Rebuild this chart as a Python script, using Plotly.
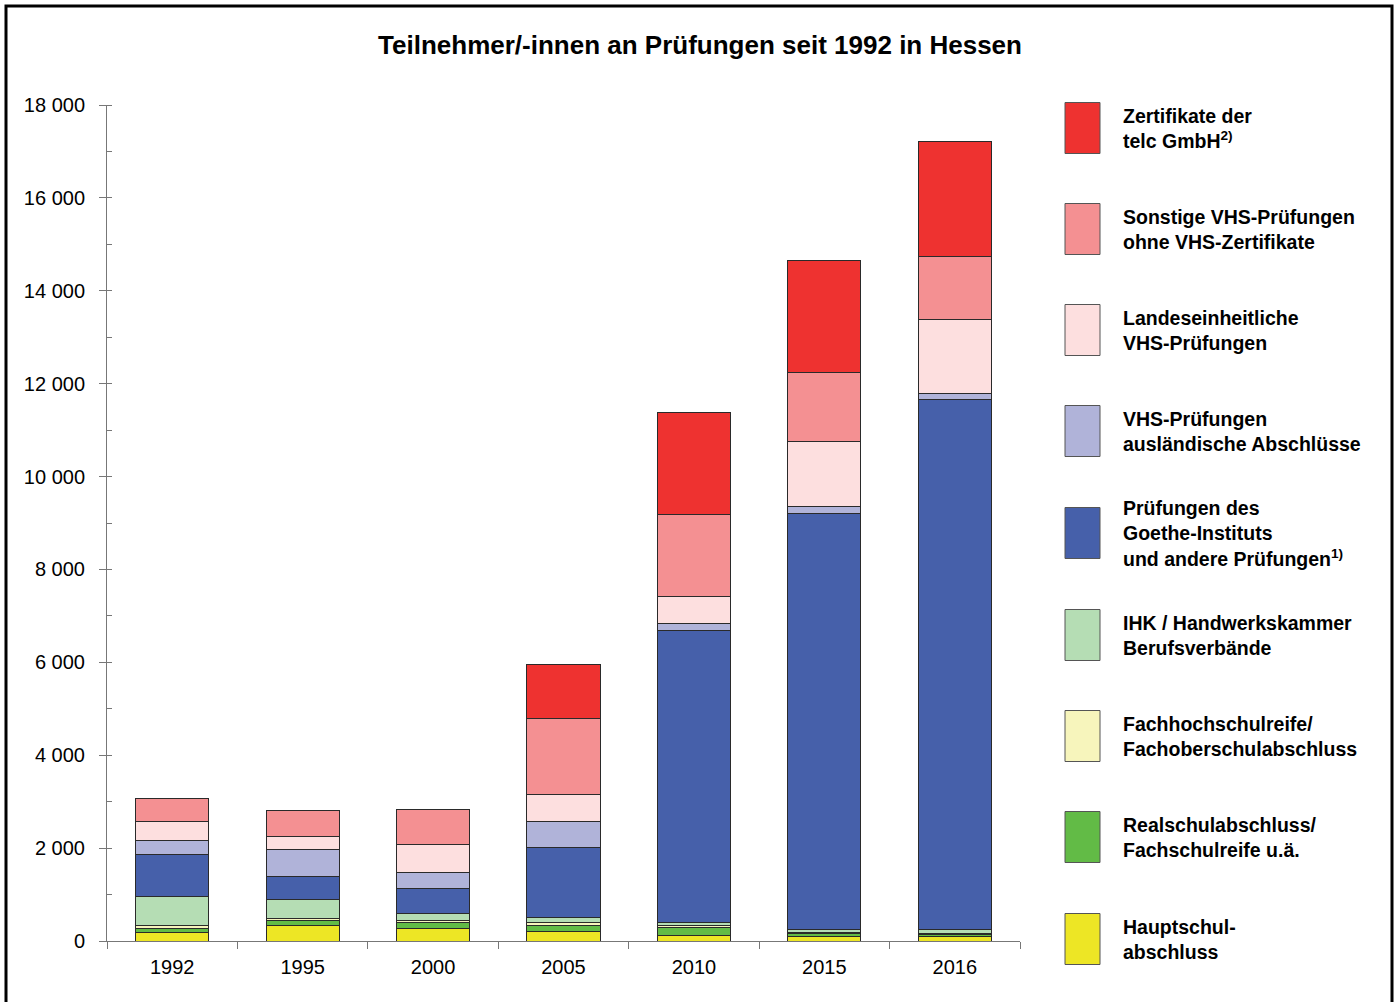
import plotly.graph_objects as go

years = ["1992", "1995", "2000", "2005", "2010", "2015", "2016"]

hauptschul = [190, 337, 280, 215, 129, 100, 100]
realschul = [85, 115, 129, 129, 165, 57, 50]
fachhoch = [60, 43, 36, 57, 50, 22, 22]
ihk = [625, 402, 151, 108, 57, 65, 65]
goethe = [912, 502, 524, 1494, 6274, 8951, 11426]
vhs_ausl = [300, 581, 352, 573, 157, 164, 129]
landes = [400, 265, 603, 582, 581, 1399, 1580]
sonstige = [503, 560, 754, 1636, 1772, 1473, 1363]
telc = [0, 0, 0, 1156, 2190, 2411, 2476]

series_values = [hauptschul, realschul, fachhoch, ihk, goethe, vhs_ausl, landes, sonstige, telc]
series_names = [
    "Hauptschul-<br>abschluss",
    "Realschulabschluss/<br>Fachschulreife u.ä.",
    "Fachhochschulreife/<br>Fachoberschulabschluss",
    "IHK / Handwerkskammer<br>Berufsverbände",
    "Prüfungen des<br>Goethe-Instituts<br>und andere Prüfungen<sup>1)</sup>",
    "VHS-Prüfungen<br>ausländische Abschlüsse",
    "Landeseinheitliche<br>VHS-Prüfungen",
    "Sonstige VHS-Prüfungen<br>ohne VHS-Zertifikate",
    "Zertifikate der<br>telc GmbH<sup>2)</sup>",
]
series_colors = ["#EDE625", "#62BB46", "#F7F5BC", "#B5DDB4", "#4660AA",
                 "#B0B3D9", "#FDDFDF", "#F49092", "#EE3230"]

tick_vals = [0, 2000, 4000, 6000, 8000, 10000, 12000, 14000, 16000, 18000]
title_text = "Teilnehmer/-innen an Prüfungen seit 1992 in Hessen"

FONT = "Liberation Sans, Arial, sans-serif"

fig = go.Figure()
for name, vals, col in zip(series_names, series_values, series_colors):
    fig.add_trace(go.Bar(
        x=years, y=vals, name=name.replace("<br>", " "),
        marker=dict(color=col, line=dict(color="#2a2a2a", width=1)),
        width=0.56, showlegend=False,
    ))

# plot area in pixels
L, R, T, B = 107, 1020, 105, 941
W, H = R - L, B - T


def px_x(p):
    return (p - L) / W


def px_y(p):
    return (B - p) / H


shapes = []
annotations = []
# custom legend (top item = last series)
item_centers = [128, 229, 330, 431, 533, 635, 736, 837, 939]
legend_order = list(range(len(series_names)))[::-1]
for idx, cy in zip(legend_order, item_centers):
    shapes.append(dict(type="rect", xref="paper", yref="paper",
                       x0=px_x(1065), x1=px_x(1100),
                       y0=px_y(cy + 25.5), y1=px_y(cy - 25.5),
                       fillcolor=series_colors[idx],
                       line=dict(color="#555555", width=1)))
    annotations.append(dict(xref="paper", yref="paper", x=px_x(1121), y=px_y(cy),
                            xanchor="left", yanchor="middle", align="left",
                            text="<b>" + series_names[idx] + "</b>", showarrow=False,
                            font=dict(family=FONT, size=19.5, color="black")))

# outer frame
shapes.append(dict(type="rect", xref="paper", yref="paper",
                   x0=px_x(6), x1=px_x(1392), y0=px_y(1010), y1=px_y(6),
                   line=dict(color="black", width=3), fillcolor="rgba(0,0,0,0)"))

fig.update_layout(
    width=1400, height=1002,
    barmode="stack",
    bargap=0.44,
    paper_bgcolor="white", plot_bgcolor="white",
    margin=dict(l=L, r=1400 - R, t=T, b=1002 - B),
    separators=", ",
    title=dict(text="<b>" + title_text + "</b>", x=0.5, xref="container",
               y=1 - 45 / 1002, yref="container", yanchor="middle", xanchor="center",
               font=dict(family=FONT, size=26, color="black")),
    font=dict(family=FONT, size=20, color="black"),
    xaxis=dict(type="category", showline=True, linecolor="#777777", linewidth=1,
               ticks="outside", ticklen=7, tickcolor="#777777", tickson="boundaries",
               tickfont=dict(family=FONT, size=20, color="black"),
               ticklabelstandoff=8,
               showgrid=False, zeroline=False, fixedrange=True),
    yaxis=dict(range=[0, 18000], tickvals=tick_vals, tickformat=",d",
               showline=True, linecolor="#777777", linewidth=1,
               ticks="outside", ticklen=7, tickcolor="#777777",
               minor=dict(dtick=1000, ticks="inside", ticklen=5, tickcolor="#777777"),
               tickfont=dict(family=FONT, size=20, color="black"),
               showgrid=False, zeroline=False, ticklabelstandoff=10),
    shapes=shapes,
    annotations=annotations,
    showlegend=False,
)

fig.write_html("out.html", config={"displayModeBar": False},
               post_script="document.body.style.margin='0';")
